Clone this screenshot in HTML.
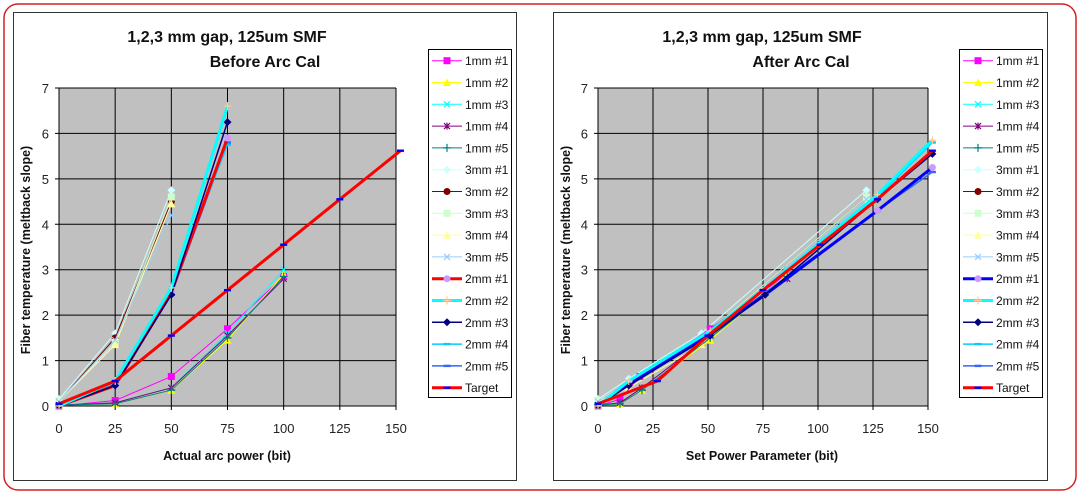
<!DOCTYPE html>
<html><head><meta charset="utf-8"><style>
html,body{margin:0;padding:0;background:#fff;}
svg{display:block;font-family:"Liberation Sans",Arial,sans-serif;}
</style></head><body>
<svg id="s" width="1080" height="494" xmlns="http://www.w3.org/2000/svg">
<rect x="4" y="4" width="1072" height="486" rx="14" fill="#fff" stroke="#d42020" stroke-width="1.5"/>
<rect x="13.5" y="12.5" width="503" height="468" fill="#fff" stroke="#333" stroke-width="1"/>
<rect x="553.5" y="12.5" width="494" height="468" fill="#fff" stroke="#333" stroke-width="1"/>
<g font-weight="bold" font-size="16" fill="#111">
<text x="227" y="42" text-anchor="middle">1,2,3 mm gap, 125um SMF</text>
<text x="265" y="67" text-anchor="middle">Before Arc Cal</text>
<text x="762" y="42" text-anchor="middle">1,2,3 mm gap, 125um SMF</text>
<text x="801" y="67" text-anchor="middle">After Arc Cal</text>
</g>
<g font-weight="bold" font-size="12.5" fill="#111">
<text x="227" y="460" text-anchor="middle">Actual arc power (bit)</text>
<text x="762" y="460" text-anchor="middle">Set Power Parameter (bit)</text>
<text transform="translate(30,250) rotate(-90)" text-anchor="middle">Fiber temperature (meltback slope)</text>
<text transform="translate(570,250) rotate(-90)" text-anchor="middle">Fiber temperature (meltback slope)</text>
</g>
<g id="c1"></g><g id="c2"></g>
</svg>
<script>
const NS="http://www.w3.org/2000/svg";
function el(p,t,a,txt){const e=document.createElementNS(NS,t);for(const k in a)e.setAttribute(k,a[k]);if(txt!=null)e.textContent=txt;p.appendChild(e);return e;}
const LEG=[["1mm #1","#ff00ff","sq",1],["1mm #2","#ffff00","tri",1],["1mm #3","#00ffff","x",1],["1mm #4","#800080","star",1],["1mm #5","#008080","plus",1],
["3mm #1","#ccffff","dia",1],["3mm #2","#800000","circ",1],["3mm #3","#ccffcc","sq",1],["3mm #4","#ffff99","tri",1],["3mm #5","#99ccff","x",1],
["2mm #1","#ff0000","circ",3,"#cc99ff"],["2mm #2","#00ffff","plus",3,"#ffcc99"],["2mm #3","#000080","dia",1.5],["2mm #4","#00ccff","dash",1.5],["2mm #5","#3366ff","dash",1.5],["Target","#ff0000","dash",3,"#0000ff"]];
function marker(g,t,x,y,c){
 if(t=="sq")el(g,"rect",{x:x-3.5,y:y-3.5,width:7,height:7,fill:c});
 else if(t=="tri")el(g,"polygon",{points:`${x},${y-4} ${x-4},${y+3.5} ${x+4},${y+3.5}`,fill:c});
 else if(t=="dia")el(g,"polygon",{points:`${x},${y-4} ${x+4},${y} ${x},${y+4} ${x-4},${y}`,fill:c});
 else if(t=="circ")el(g,"circle",{cx:x,cy:y,r:3.5,fill:c});
 else if(t=="x"||t=="star"){el(g,"path",{d:`M${x-3} ${y-3}L${x+3} ${y+3}M${x+3} ${y-3}L${x-3} ${y+3}`+(t=="star"?`M${x} ${y-3.5}V${y+3.5}`:""),stroke:c,"stroke-width":1.2});}
 else if(t=="plus")el(g,"path",{d:`M${x-4} ${y}H${x+4}M${x} ${y-4}V${y+4}`,stroke:c,"stroke-width":1.2});
 else if(t=="dash")el(g,"rect",{x:x-3.5,y:y-1.2,width:7,height:2.4,fill:c});
}
function chart(id,x0,x1,lx,data,leg,c10){
 const g=document.getElementById(id),y0=88,y1=406;
 const X=v=>x0+(x1-x0)*v/150,Y=v=>y1-(y1-y0)*v/7;
 const col=i=>(i==10?c10:LEG[i][1]);
 el(g,"rect",{x:x0,y:y0,width:x1-x0,height:y1-y0,fill:"#c0c0c0"});
 for(let i=0;i<=6;i++){const x=X(i*25);el(g,"line",{x1:x,y1:y0,x2:x,y2:y1+4,stroke:"#000","stroke-width":1});
  el(g,"text",{x:x,y:433,"text-anchor":"middle","font-size":13,fill:"#222"},String(i*25));}
 for(let j=0;j<=7;j++){const y=Y(j);el(g,"line",{x1:x0-4,y1:y,x2:x1,y2:y,stroke:"#000","stroke-width":1});
  el(g,"text",{x:x0-10,y:y+5,"text-anchor":"end","font-size":13,fill:"#222"},String(j));}
 data.forEach(d=>{const L=LEG[d[0]];const pts=d[1].map(p=>X(p[0])+","+Y(p[1])).join(" ");
  el(g,"polyline",{points:pts,fill:"none",stroke:col(d[0]),"stroke-width":L[3]});
  d[1].forEach(p=>marker(g,L[2],X(p[0]),Y(p[1]),L[4]||L[1]));});
 el(g,"rect",{x:lx+0.5,y:49.5,width:leg,height:348,fill:"#fff",stroke:"#000"});
 LEG.forEach((L,i)=>{const y=60.7+i*21.8;
  el(g,"line",{x1:lx+4,y1:y,x2:lx+34,y2:y,stroke:col(i),"stroke-width":L[3]});
  marker(g,L[2],lx+19,y,L[4]||L[1]);
  el(g,"text",{x:lx+37,y:y+4.5,"font-size":12,fill:"#111"},L[0]);});
}
const T=[[0,0.05],[25,0.55],[50,1.55],[75,2.55],[100,3.55],[125,4.55],[152,5.62]];
chart("c1",59,396,428,[
[5,[[0,0.15],[25,1.6],[50,4.75]]],[6,[[0,0.1],[25,1.5],[50,4.5]]],[7,[[0,0.12],[25,1.4],[50,4.6]]],[8,[[0,0.1],[25,1.35],[50,4.45]]],[9,[[0,0.1],[25,1.45],[50,4.2]]],
[0,[[0,0],[25,0.12],[50,0.65],[75,1.7],[100,2.85]]],[1,[[0,0.02],[25,0.05],[50,0.35],[75,1.45],[100,2.9]]],[2,[[0,0.02],[25,0.07],[50,0.4],[75,1.6],[100,3]]],[3,[[0,0.02],[25,0.07],[50,0.4],[75,1.55],[100,2.8]]],[4,[[0,0.02],[25,0.05],[50,0.35],[75,1.5],[100,2.85]]],
[14,[[0,0],[25,0.45],[50,2.45],[75,5.8]]],[13,[[0,0],[25,0.5],[50,2.6],[75,5.75]]],[10,[[0,0],[25,0.45],[50,2.5],[75,5.9]]],[12,[[0,0],[25,0.45],[50,2.45],[75,6.25]]],[11,[[0,0],[25,0.55],[50,2.6],[75,6.6]]],
[15,T]],83,"#ff0000");
chart("c2",598,928,959,[
[5,[[0,0.15],[14,0.6],[47,1.6],[122,4.75]]],[6,[[0,0.1],[14,0.5],[47,1.5],[122,4.6]]],[7,[[0,0.12],[14,0.5],[47,1.5],[122,4.6]]],[8,[[0,0.1],[14,0.4],[47,1.35],[122,4.45]]],[9,[[0,0.1],[14,0.5],[47,1.45],[122,4.55]]],
[0,[[0,0],[10,0.15],[19,0.65],[51,1.7],[86,2.9]]],[1,[[0,0.02],[10,0.05],[20,0.35],[51,1.45],[86,2.9]]],[2,[[0,0.02],[10,0.07],[20,0.4],[51,1.55],[86,3]]],[3,[[0,0.02],[10,0.07],[20,0.4],[51,1.55],[86,2.8]]],[4,[[0,0.02],[10,0.05],[20,0.35],[51,1.5],[86,2.85]]],
[14,[[0,0],[14,0.5],[51,1.6],[76,2.5],[127,4.3],[152,5.15]]],[13,[[0,0],[14,0.55],[51,1.6],[76,2.6],[127,4.6],[152,5.8]]],[10,[[0,0],[14,0.5],[51,1.6],[76,2.45],[127,4.3],[152,5.25]]],[12,[[0,0],[14,0.45],[51,1.55],[76,2.45],[127,4.55],[152,5.55]]],[11,[[0,0],[14,0.55],[51,1.65],[76,2.6],[127,4.65],[152,5.85]]],
[15,[[0,0.05],[27,0.55],[50,1.55],[75,2.55],[101,3.55],[127,4.55],[152,5.62]]]],83,"#0000ff");
</script>
</body></html>
